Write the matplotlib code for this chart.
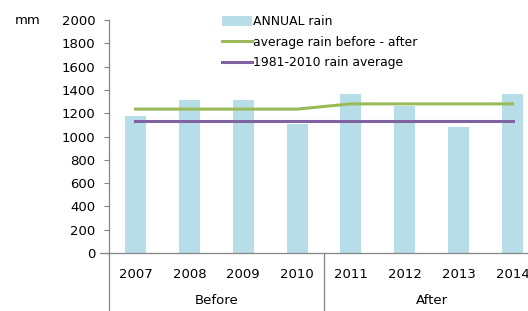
import matplotlib
matplotlib.use("Agg")
import matplotlib.pyplot as plt
from matplotlib.lines import Line2D
import numpy as np

# data
years = ["2007", "2008", "2009", "2010", "2011", "2012", "2013", "2014"]
periods = ["Before", "After"]
annual_rain = [1176, 1313, 1313, 1105, 1365, 1265, 1082, 1365]
avg_before_after = [1235, 1235, 1235, 1235, 1280, 1280, 1280, 1280]
avg_1981_2010 = [1133, 1133, 1133, 1133, 1133, 1133, 1133, 1133]

BAR_C = "#B7DEE8"
GREEN = "#9BBB59"
PURPLE = "#8064A2"
AXIS_C = "#868686"

plt.rcParams["font.family"] = ["DejaVu Sans"]
W, H = 528, 311
fig = plt.figure(figsize=(W / 100, H / 100), dpi=100)

left, right, top, bottom = 108.5, 539.5, 20, 253
ax = fig.add_axes([left / W, 1 - bottom / H, (right - left) / W, (bottom - top) / H])

x = np.arange(len(years))
bars = ax.bar(x, annual_rain, width=0.39, color=BAR_C, label="ANNUAL rain", zorder=2)
g, = ax.plot(x, avg_before_after, color=GREEN, lw=2.2, label="average rain before - after", zorder=3)
p, = ax.plot(x, avg_1981_2010, color=PURPLE, lw=2.2, label="1981-2010 rain average", zorder=3)

ax.set_xlim(-0.5, len(years) - 0.5)
ax.set_ylim(0, 2000)
ax.set_yticks(range(0, 2001, 200))
ax.set_xticks(x)
ax.set_xticklabels(years)
ax.tick_params(axis="x", length=0, pad=11, labelsize=9.5)
ax.tick_params(axis="y", length=3.5, width=0.8, color=AXIS_C, pad=6, labelsize=9.5)

for s in ["top", "right"]:
    ax.spines[s].set_visible(False)
for s in ["left", "bottom"]:
    ax.spines[s].set_color(AXIS_C)
    ax.spines[s].set_linewidth(0.9)

# multi-level category axis: extend y spine down, separator between groups
tr = ax.get_xaxis_transform()
depth = -(H - bottom) / (bottom - top)
ax.add_line(Line2D([-0.5, -0.5], [0, depth], transform=tr, color=AXIS_C, lw=0.9, clip_on=False))
ax.add_line(Line2D([3.5, 3.5], [0, depth], transform=tr, color=AXIS_C, lw=0.9, clip_on=False))
ax.add_line(Line2D([-0.5, -0.65], [0, 0], transform=tr, color=AXIS_C, lw=0.9, clip_on=False))
ax.text(1.5, -47 / (bottom - top), periods[0], transform=tr, ha="center", va="center", fontsize=9.5)
ax.text(5.5, -47 / (bottom - top), periods[1], transform=tr, ha="center", va="center", fontsize=9.5)

fig.text(15 / W, 1 - 20 / H, "mm", ha="left", va="center", fontsize=9.5)

ax.legend([bars, g, p], [bars.get_label(), g.get_label(), p.get_label()],
          loc="upper left", bbox_to_anchor=(222 / W, 1 - 15 / H),
          bbox_transform=fig.transFigure, frameon=False, fontsize=8.9,
          borderpad=0, borderaxespad=0, handlelength=2.45, handletextpad=0.05,
          handleheight=0.9, labelspacing=0.62)

fig.savefig("out.png", dpi=100)
